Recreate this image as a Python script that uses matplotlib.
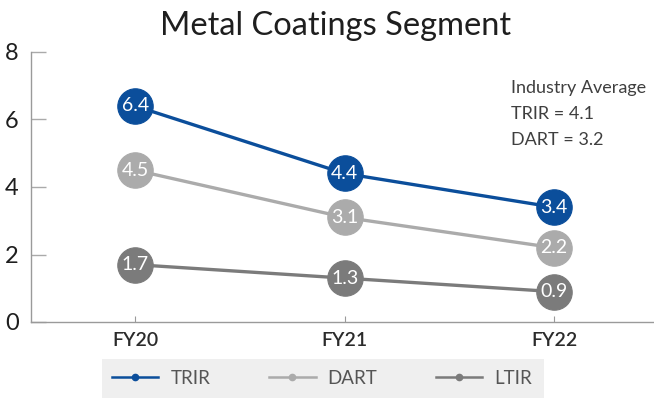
import matplotlib
matplotlib.use("Agg")
import matplotlib.pyplot as plt
from matplotlib.lines import Line2D
from matplotlib.patches import Rectangle

years = ["FY20", "FY21", "FY22"]
trir = [6.4, 4.4, 3.4]
dart = [4.5, 3.1, 2.2]
ltir = [1.7, 1.3, 0.9]
series_names = ["TRIR", "DART", "LTIR"]
y_ticks = [0, 2, 4, 6, 8]
industry_note = ["Industry Average", "TRIR = 4.1", "DART = 3.2"]

colors = ["#0b4e9b", "#ababab", "#7b7b7b"]
font = ["Lato", "DejaVu Sans"]
plt.rcParams["font.family"] = font

W, H = 654, 398
fig = plt.figure(figsize=(W / 100, H / 100), dpi=100)
ax = fig.add_axes([31 / W, 1 - 322 / H, (654 - 31) / W, (322 - 52) / H])

x = list(range(len(years)))
ax.set_xlim(-0.497, 2.477)
ax.set_ylim(0, 8)

# series drawn back to front so the blue line sits on top
for vals, c in zip([ltir, dart, trir], [colors[2], colors[1], colors[0]]):
    ax.plot(x, vals, color=c, lw=2.4, zorder=2, solid_capstyle="round")
    ax.plot(x, vals, "o", ms=25.5, mfc=c, mec=c, mew=0.8, zorder=3)
    for xi, v in zip(x, vals):
        ax.text(xi, v, f"{v:.1f}", color="white", ha="center", va="center",
                fontsize=14, zorder=4)

for s in ["top", "right"]:
    ax.spines[s].set_visible(False)
for s in ["left", "bottom"]:
    ax.spines[s].set_color("#9a9a9a")
    ax.spines[s].set_linewidth(1.0)

ax.set_yticks(y_ticks)
ax.set_yticklabels([str(t) for t in y_ticks], fontsize=17, color="#1e1e1e")
ax.tick_params(axis="y", direction="in", length=11, width=1.0, color="#aaaaaa", pad=9)
ax.set_xticks(x)
ax.set_xticklabels(years, fontsize=14, color="#2b2b2b", fontweight="semibold")
ax.tick_params(axis="x", direction="in", length=4.5, width=0.8, color="#9a9a9a", pad=7)

fig.text(336 / W, 1 - 26 / H, "Metal Coatings Segment", ha="center", va="center",
         fontsize=23.5, color="#1e1e1e")

for i, line in enumerate(industry_note):
    fig.text(511 / W, 1 - (88 + 26 * i) / H, line, ha="left", va="center",
             fontsize=13, color="#3f3f3f")

# legend strip under the axis
fig.patches.append(Rectangle((102 / W, 0), (544 - 102) / W, (398 - 359) / H,
                             transform=fig.transFigure, facecolor="#efefef",
                             edgecolor="none", zorder=0))
handles = [Line2D([0], [0], color=c, lw=1.8, marker="o", ms=4.5) for c in colors]
fig.legend(handles, series_names, loc="center", bbox_to_anchor=(322 / W, 1 - 378 / H),
           ncol=3, frameon=False, fontsize=13.5, handlelength=2.5, columnspacing=3.1,
           handletextpad=0.65, labelcolor="#555555")

fig.savefig("out.png", dpi=100)
